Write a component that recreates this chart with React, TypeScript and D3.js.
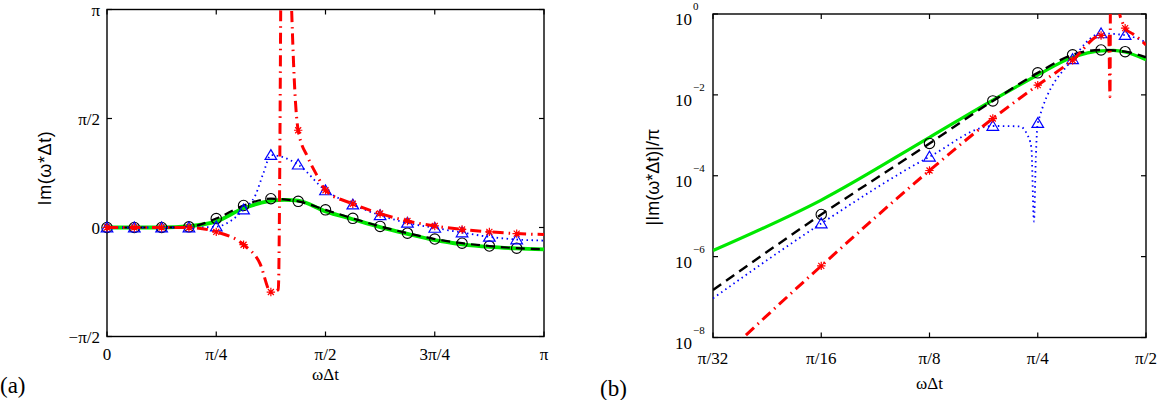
import { useEffect, useRef } from 'react';
import * as d3 from 'd3';

// x values are in units of pi; panel (a) y values are Im(w*dt)/pi
const markA = [0, 0.0625, 0.125, 0.1875, 0.25, 0.3125, 0.375, 0.4375, 0.5, 0.5625, 0.625, 0.6875, 0.75, 0.8125, 0.875, 0.9375];
const circA = [0, 0, 0, 0.003, 0.041, 0.101, 0.132, 0.12, 0.081, 0.042, 0.005, -0.026, -0.053, -0.072, -0.085, -0.095];
const triA = [0, 0, 0, 0, 0.004, 0.082, 0.332, 0.288, 0.17, 0.105, 0.056, 0.021, -0.002, -0.023, -0.043, -0.055];
const starA = [0, 0, 0, 0, -0.02, -0.079, -0.296, 0.446, 0.171, 0.109, 0.064, 0.03, 0.007, -0.009, -0.02, -0.028];

const greenAx = [0, 0.0625, 0.125, 0.1875, 0.25, 0.3125, 0.375, 0.40625, 0.4375, 0.5, 0.5625, 0.625, 0.6875, 0.75, 0.8125, 0.875, 0.9375, 1];
const greenAy = [0, 0, 0, 0.006, 0.028, 0.088, 0.122, 0.127, 0.123, 0.074, 0.038, 0.002, -0.029, -0.058, -0.077, -0.089, -0.096, -0.1];
const blackAx = [0, 0.0625, 0.125, 0.1875, 0.25, 0.3125, 0.375, 0.4375, 0.5, 0.5625, 0.625, 0.6875, 0.75, 0.8125, 0.875, 0.9375, 1];
const blackAy = [0, 0, 0, 0.003, 0.041, 0.101, 0.132, 0.12, 0.081, 0.042, 0.005, -0.026, -0.053, -0.072, -0.085, -0.095, -0.1];
const blueAx = [0, 0.0625, 0.125, 0.1875, 0.25, 0.3125, 0.34, 0.358, 0.375, 0.4375, 0.5, 0.5625, 0.625, 0.6875, 0.75, 0.8125, 0.875, 0.9375, 1];
const blueAy = [0, 0, 0, 0, 0.004, 0.082, 0.15, 0.25, 0.332, 0.288, 0.17, 0.105, 0.056, 0.021, -0.002, -0.023, -0.043, -0.055, -0.06];
// red curve has a pole, drawn as two branches
const redLoAx = [0, 0.0625, 0.125, 0.1875, 0.25, 0.3125, 0.35, 0.375, 0.392, 0.398];
const redLoAy = [0, 0, 0, 0, -0.02, -0.079, -0.165, -0.296, -0.285, 1.2];
const redHiAx = [0.4195, 0.4225, 0.43, 0.4375, 0.46, 0.483, 0.5, 0.5625, 0.625, 0.6875, 0.75, 0.8125, 0.875, 0.9375, 1];
const redHiAy = [1.2, 1.0, 0.62, 0.446, 0.32, 0.23, 0.171, 0.109, 0.064, 0.03, 0.007, -0.009, -0.02, -0.028, -0.032];

// panel (b): |Im(w*dt)|/pi on log axes
const markB = [0.0625, 0.125, 0.1875, 0.25, 0.3125, 0.375, 0.4375];
const circB = [1.1e-5, 6.3e-4, 7.1e-3, 3.5e-2, 9.8e-2, 0.129, 0.117];
const triB = [6.6e-6, 2.95e-4, 1.7e-3, 2.0e-3, 7.6e-2, 0.33, 0.3];
const starB = [5.9e-7, 1.35e-4, 2.6e-3, 1.74e-2, 7.2e-2, 0.295, 0.446];

const greenBx = [0.03125, 0.0625, 0.125, 0.1875, 0.25, 0.3125, 0.375, 0.40625, 0.4375, 0.5];
const greenBy = [1.41e-6, 2.5e-5, 8.9e-4, 7.4e-3, 3.1e-2, 8.5e-2, 0.123, 0.126, 0.115, 0.074];
const blackBx = [0.03125, 0.0625, 0.125, 0.1875, 0.25, 0.3125, 0.375, 0.4375, 0.5];
const blackBy = [1.5e-7, 1.1e-5, 6.3e-4, 7.1e-3, 3.5e-2, 9.8e-2, 0.129, 0.117, 0.085];
const blueBx = [0.03125, 0.0625, 0.125, 0.1875, 0.2229, 0.233, 0.24, 0.244, 0.247, 0.25, 0.3125, 0.375, 0.4375, 0.5];
const blueBy = [9.3e-8, 6.6e-6, 2.95e-4, 1.7e-3, 1.66e-3, 1.1e-3, 5e-4, 7.4e-6, 3e-4, 2.0e-3, 7.6e-2, 0.33, 0.3, 0.2];
const redLoBx = [0.03125, 0.0625, 0.125, 0.1875, 0.25, 0.3125, 0.375, 0.394, 0.397, 0.398];
const redLoBy = [2e-9, 5.9e-7, 1.35e-4, 2.6e-3, 1.74e-2, 7.2e-2, 0.295, 0.28, 9e-3, 1.6];
const redHiBx = [0.4195, 0.4225, 0.43, 0.4375, 0.46, 0.483, 0.5];
const redHiBy = [1.5, 1.0, 0.62, 0.446, 0.32, 0.23, 0.171];

const ticksAx = [0, 0.25, 0.5, 0.75, 1];
const labelsAx = ['0', 'π/4', 'π/2', '3π/4', 'π'];
const ticksAy = [-0.5, 0, 0.5, 1];
const labelsAy = ['−π/2', '0', 'π/2', 'π'];
const ticksBx = [1 / 32, 1 / 16, 1 / 8, 1 / 4, 1 / 2];
const labelsBx = ['π/32', 'π/16', 'π/8', 'π/4', 'π/2'];
const ticksBy = [1e-8, 1e-6, 1e-4, 1e-2, 1];
const expBy = ['−8', '−6', '−4', '−2', '0'];

const GREEN = '#00e800';
const RED = '#ff0000';
const BLUE = '#0000ff';
const SERIF = '"Liberation Serif", "Times New Roman", serif';
const SANS = '"Liberation Sans", Arial, sans-serif';

type Pt = [number, number];
const zip = (xs: number[], ys: number[]): Pt[] => xs.map((x, i) => [x, ys[i]]);

const TRI = 'M0,-5.5L5.8,4.3L-5.8,4.3Z';
const STAR = 'M-4.2,0H4.2M0,-4.2V4.2M-3,-3L3,3M-3,3L3,-3';

type Sel = d3.Selection<SVGGElement, unknown, null, undefined>;

function drawBox(g: Sel, x0: number, x1: number, y0: number, y1: number) {
  g.append('rect')
    .attr('x', x0).attr('y', y0)
    .attr('width', x1 - x0).attr('height', y1 - y0)
    .attr('fill', 'none').attr('stroke', '#000').attr('stroke-width', 1.4);
}

function ticks(g: Sel, xs: number[], ys: number[], x0: number, x1: number, y0: number, y1: number) {
  const t = 5;
  xs.forEach(x => {
    g.append('line').attr('x1', x).attr('x2', x).attr('y1', y1).attr('y2', y1 - t).attr('stroke', '#000').attr('stroke-width', 1.2);
    g.append('line').attr('x1', x).attr('x2', x).attr('y1', y0).attr('y2', y0 + t).attr('stroke', '#000').attr('stroke-width', 1.2);
  });
  ys.forEach(y => {
    g.append('line').attr('x1', x0).attr('x2', x0 + t).attr('y1', y).attr('y2', y).attr('stroke', '#000').attr('stroke-width', 1.2);
    g.append('line').attr('x1', x1).attr('x2', x1 - t).attr('y1', y).attr('y2', y).attr('stroke', '#000').attr('stroke-width', 1.2);
  });
}

function series(
  g: Sel, clipId: string, line: d3.Line<Pt>, data: Pt[],
  color: string, width: number, dash: string | null
) {
  g.append('path')
    .datum(data)
    .attr('clip-path', `url(#${clipId})`)
    .attr('fill', 'none')
    .attr('stroke', color)
    .attr('stroke-width', width)
    .attr('stroke-dasharray', dash)
    .attr('stroke-linejoin', 'round')
    .attr('d', line);
}

function markers(g: Sel, pts: Pt[], kind: 'o' | '^' | '*', sx: (v: number) => number, sy: (v: number) => number) {
  pts.forEach(([x, y]) => {
    const cx = sx(x);
    const cy = sy(y);
    if (kind === 'o') {
      g.append('circle').attr('cx', cx).attr('cy', cy).attr('r', 5.2)
        .attr('fill', 'none').attr('stroke', '#000').attr('stroke-width', 1.1);
    } else {
      g.append('path').attr('transform', `translate(${cx},${cy})`)
        .attr('d', kind === '^' ? TRI : STAR)
        .attr('fill', 'none')
        .attr('stroke', kind === '^' ? BLUE : RED)
        .attr('stroke-width', 1.2);
    }
  });
}

export default function App() {
  const svgRef = useRef<SVGSVGElement>(null);

  useEffect(() => {
    if (!svgRef.current) return;
    const svg = d3.select(svgRef.current);
    svg.selectAll('*').remove();

    const defs = svg.append('defs');

    // ---------- panel (a) ----------
    const ax0 = 107, ax1 = 544, ay0 = 9.5, ay1 = 336.5;
    const xA = d3.scaleLinear().domain([0, 1]).range([ax0, ax1]);
    const yA = d3.scaleLinear().domain([-0.5, 1]).range([ay1, ay0]);
    defs.append('clipPath').attr('id', 'clipA')
      .append('rect').attr('x', ax0).attr('y', ay0).attr('width', ax1 - ax0).attr('height', ay1 - ay0);

    const gA = svg.append('g') as unknown as Sel;
    drawBox(gA, ax0, ax1, ay0, ay1);
    ticks(gA, ticksAx.map(xA), ticksAy.map(yA), ax0, ax1, ay0, ay1);

    const lineA = d3.line<Pt>().x(d => xA(d[0])).y(d => yA(d[1])).curve(d3.curveMonotoneX);
    series(gA, 'clipA', lineA, zip(greenAx, greenAy), GREEN, 3.8, null);
    series(gA, 'clipA', lineA, zip(blackAx, blackAy), '#000', 2.2, '9,6');
    markers(gA, zip(markA, circA), 'o', xA, yA);
    series(gA, 'clipA', lineA, zip(blueAx, blueAy), BLUE, 1.8, '1.5,3.5');
    markers(gA, zip(markA, triA), '^', xA, yA);
    series(gA, 'clipA', lineA, zip(redLoAx, redLoAy), RED, 3, '11,5,1.5,5');
    series(gA, 'clipA', lineA, zip(redHiAx, redHiAy), RED, 3, '11,5,1.5,5');
    markers(gA, zip(markA, starA), '*', xA, yA);

    gA.selectAll('.xtA').data(ticksAx).enter().append('text')
      .attr('x', d => xA(d)).attr('y', 360)
      .attr('text-anchor', 'middle').attr('font-family', SERIF).attr('font-size', 17)
      .text((_, i) => labelsAx[i]);
    gA.selectAll('.ytA').data(ticksAy).enter().append('text')
      .attr('x', 100).attr('y', d => yA(d) + 6)
      .attr('text-anchor', 'end').attr('font-family', SERIF).attr('font-size', 17)
      .text((_, i) => labelsAy[i]);
    gA.append('text')
      .attr('x', (ax0 + ax1) / 2).attr('y', 380)
      .attr('text-anchor', 'middle').attr('font-family', SERIF).attr('font-size', 17)
      .text('ωΔt');
    gA.append('text')
      .attr('transform', `translate(51,168) rotate(-90)`)
      .attr('text-anchor', 'middle').attr('font-family', SANS).attr('font-size', 18)
      .attr('letter-spacing', 0.6)
      .text('Im(ω*Δt)');
    gA.append('text')
      .attr('x', 0).attr('y', 393)
      .attr('font-family', SERIF).attr('font-size', 23)
      .text('(a)');

    // ---------- panel (b) ----------
    const bx0 = 713, bx1 = 1146, by0 = 14, by1 = 337.5;
    const xB = d3.scaleLog().base(2).domain([1 / 32, 1 / 2]).range([bx0, bx1]);
    const yB = d3.scaleLog().domain([1e-8, 1]).range([by1, by0]);
    defs.append('clipPath').attr('id', 'clipB')
      .append('rect').attr('x', bx0).attr('y', by0).attr('width', bx1 - bx0).attr('height', by1 - by0);

    const gB = svg.append('g') as unknown as Sel;
    drawBox(gB, bx0, bx1, by0, by1);
    ticks(gB, ticksBx.map(xB), ticksBy.map(yB), bx0, bx1, by0, by1);

    const lineB = d3.line<Pt>().x(d => xB(d[0])).y(d => yB(d[1])).curve(d3.curveMonotoneX);
    series(gB, 'clipB', lineB, zip(greenBx, greenBy), GREEN, 3.2, null);
    series(gB, 'clipB', lineB, zip(blackBx, blackBy), '#000', 2.4, '10,6');
    markers(gB, zip(markB, circB), 'o', xB, yB);
    series(gB, 'clipB', lineB, zip(blueBx, blueBy), BLUE, 1.8, '1.5,3.5');
    markers(gB, zip(markB, triB), '^', xB, yB);
    series(gB, 'clipB', lineB, zip(redLoBx, redLoBy), RED, 3, '11,5,1.5,5');
    series(gB, 'clipB', lineB, zip(redHiBx, redHiBy), RED, 3, '11,5,1.5,5');
    markers(gB, zip(markB, starB), '*', xB, yB);

    gB.selectAll('.xtB').data(ticksBx).enter().append('text')
      .attr('x', d => xB(d)).attr('y', 364)
      .attr('text-anchor', 'middle').attr('font-family', SERIF).attr('font-size', 17)
      .text((_, i) => labelsBx[i]);
    const yt = gB.selectAll('.ytB').data(ticksBy).enter().append('g');
    yt.append('text')
      .attr('x', 692).attr('y', d => yB(d) + 11)
      .attr('text-anchor', 'end').attr('font-family', SERIF).attr('font-size', 17)
      .text('10');
    yt.append('text')
      .attr('x', 693).attr('y', d => yB(d) - 4)
      .attr('font-family', SERIF).attr('font-size', 11)
      .text((_, i) => expBy[i]);
    gB.append('text')
      .attr('x', (bx0 + bx1) / 2).attr('y', 389)
      .attr('text-anchor', 'middle').attr('font-family', SERIF).attr('font-size', 17)
      .text('ωΔt');
    gB.append('text')
      .attr('transform', `translate(659,177) rotate(-90)`)
      .attr('text-anchor', 'middle').attr('font-family', SANS).attr('font-size', 18)
      .text('|Im(ω*Δt)|/π');
    gB.append('text')
      .attr('x', 600).attr('y', 396)
      .attr('font-family', SERIF).attr('font-size', 23)
      .text('(b)');
  }, []);

  return (
    <svg
      ref={svgRef}
      width={1167}
      height={400}
      style={{ position: 'absolute', left: 0, top: 0, background: '#fff' }}
    />
  );
}
